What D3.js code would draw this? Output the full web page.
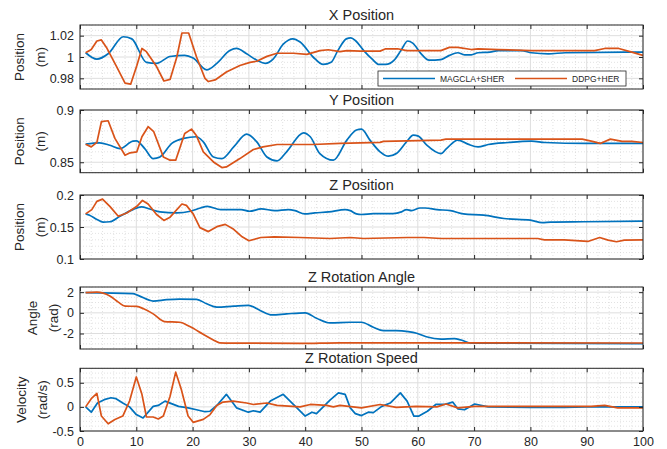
<!DOCTYPE html>
<html>
<head>
<meta charset="utf-8">
<script src="https://cdn.jsdelivr.net/npm/d3@7"></script>
<style>
  body { margin: 0; background: #fff; }
  text { font-family: "Liberation Sans", Arial, sans-serif; fill: #262626; }
</style>
</head>
<body>
<svg id="chart" width="667" height="449"></svg>
<script>
// ---- data (x = step, y = value) ----
var xTicks = [0, 10, 20, 30, 40, 50, 60, 70, 80, 90, 100];
var seriesNames = ["MAGCLA+SHER", "DDPG+HER"];

var xPosMag = [[1,1.004],[3,0.998],[5,1.003],[7.7,1.019],[9.2,1.017],[11.8,0.995],[13.6,0.994],[16,1.0005],[18.6,1.0015],[20.1,0.999],[22.5,0.988],[24.3,0.994],[26.6,1.006],[27.8,1.008],[29.6,1.003],[31.4,0.997],[32.9,0.994],[34.3,0.998],[36.1,1.012],[37.8,1.017],[39.1,1.014],[41.4,1.0],[43.2,0.993],[44.6,0.995],[45.8,1.006],[47.3,1.017],[48.1,1.018],[49,1.015],[50.4,1.006],[51.9,0.998],[53.1,0.993],[54.3,0.993],[55.8,0.997],[57,1.006],[58.2,1.015],[59.1,1.013],[60.6,1.003],[62,0.997],[64.1,0.9975],[65.6,1.0015],[67.1,1.004],[68.3,1.002],[69.5,1.002],[70.7,1.004],[72.8,1.0045],[74.3,1.006],[78.4,1.006],[80.2,1.004],[83.2,1.003],[86.2,1.004],[96.9,1.0045],[100,1.0045]];
var xPosDdpg = [[1,1.004],[2,1.007],[3,1.015],[3.8,1.016],[4.7,1.009],[6.5,0.991],[8,0.9755],[9,0.9745],[10.1,0.992],[11,1.008],[11.8,1.005],[13.6,0.991],[14.9,0.9775],[16,0.979],[17.2,1.0],[18.1,1.0225],[19.3,1.0225],[20.7,1.0],[22.2,0.98],[22.8,0.977],[24,0.9785],[26,0.986],[28.4,0.992],[30.2,0.995],[31.4,0.996],[33.2,1.0006],[35,1.0035],[37.9,1.0035],[40.3,1.0025],[42.6,1.006],[44.1,1.0068],[46.2,1.005],[47.4,1.006],[49.8,1.0055],[53.3,1.0055],[54.3,1.0077],[56.4,1.0077],[58,1.006],[64.1,1.006],[65.6,1.009],[67.1,1.009],[69.5,1.007],[70.7,1.0077],[74.3,1.007],[80.2,1.006],[91.4,1.006],[93.2,1.008],[95.7,1.008],[98,1.0046],[100,1.0015]];

var yPosMag = [[1,0.8673],[3.5,0.8685],[5.3,0.8663],[7.1,0.8631],[9.4,0.8702],[10,0.8705],[11.5,0.8631],[13,0.8535],[14.2,0.855],[16.3,0.868],[18.4,0.8728],[20.7,0.8744],[21.9,0.8695],[23.7,0.855],[25.2,0.8535],[27.3,0.8647],[29.6,0.8769],[31.4,0.8695],[33.2,0.855],[35,0.8513],[36.7,0.86],[39.7,0.8782],[40.9,0.8744],[42.6,0.8583],[45,0.852],[47.4,0.8712],[49.1,0.8808],[50,0.8817],[51.5,0.8712],[53.3,0.86],[54.8,0.8558],[56.2,0.8583],[58,0.8696],[59.2,0.876],[60.1,0.875],[61.6,0.8663],[64.1,0.8583],[65.1,0.8631],[67.1,0.8712],[68.9,0.8673],[70.7,0.8647],[72.5,0.867],[76,0.8689],[80.2,0.8702],[82.6,0.8689],[89.8,0.868],[100,0.868]];
var yPosDdpg = [[1,0.8673],[2,0.8647],[3,0.869],[3.8,0.8888],[5,0.8897],[6.2,0.8728],[8,0.8567],[8.9,0.859],[10.1,0.86],[11,0.8744],[12.1,0.884],[13.1,0.8792],[14.8,0.8551],[16,0.852],[17,0.852],[18.6,0.8776],[19.8,0.8817],[20.7,0.8753],[21.9,0.86],[23.7,0.8503],[25.2,0.8449],[26,0.8455],[28.4,0.8535],[30.8,0.8622],[32.5,0.8647],[35,0.867],[41.4,0.867],[46.2,0.868],[53.3,0.869],[53.9,0.87],[64.1,0.8712],[65,0.8721],[89.2,0.8721],[91,0.87],[92.4,0.868],[94.2,0.8721],[96.3,0.87],[98,0.87],[100,0.8689]];

var zPosMag = [[1,0.1705],[1.7,0.1685],[3,0.1618],[4.1,0.1577],[5.3,0.1582],[7.1,0.1669],[9.4,0.1772],[10.9,0.1813],[12.4,0.1782],[14.2,0.1736],[17.2,0.172],[19.6,0.1746],[21.4,0.1797],[22.6,0.1823],[25,0.1772],[28.6,0.1772],[30.1,0.1746],[32.2,0.1782],[34.6,0.1756],[37,0.1772],[38.2,0.1756],[39.9,0.1705],[41.7,0.172],[44.2,0.1736],[47.1,0.1772],[48,0.1756],[49.1,0.1705],[50,0.1695],[52.1,0.171],[55.6,0.171],[57.1,0.1736],[58,0.1772],[58.9,0.1756],[60.4,0.1797],[61.3,0.1797],[63.4,0.1772],[65.8,0.1756],[68.1,0.1705],[71.7,0.1685],[75.3,0.1633],[80,0.1608],[82.1,0.1567],[83.6,0.1577],[89.5,0.1582],[100,0.1592]];
var zPosDdpg = [[1,0.1705],[2.1,0.1772],[3,0.19],[4,0.1936],[5.3,0.1823],[6.8,0.1669],[8.3,0.172],[10.1,0.1823],[11.1,0.1915],[12.1,0.1859],[13.6,0.1695],[14.9,0.1603],[16,0.1654],[18.1,0.1859],[18.9,0.1838],[20.1,0.1705],[21.3,0.149],[22.8,0.1428],[24.3,0.1505],[25.8,0.1541],[27.3,0.1464],[28.8,0.1346],[30,0.1285],[32.1,0.1336],[34.5,0.1346],[39.1,0.1336],[44.4,0.132],[48,0.1336],[50.4,0.132],[58.2,0.1336],[61.1,0.1336],[64.1,0.132],[81.3,0.132],[82.5,0.13],[86,0.13],[90.2,0.1274],[92.3,0.1336],[93.8,0.1295],[95.3,0.127],[96.7,0.1295],[100,0.13]];

var angleMag = [[1,1.95],[9.4,1.85],[10.3,1.69],[13,1.14],[15.4,1.27],[17.7,1.33],[20.7,1.3],[22.5,0.88],[24.3,0.55],[27.3,0.65],[29.9,0.72],[32,0.23],[34.1,-0.2],[36.7,-0.1],[40,0],[42,-0.52],[44.4,-0.98],[48,-0.91],[50,-0.91],[52.1,-1.4],[53.9,-1.72],[56.2,-1.72],[58.3,-1.82],[59.8,-1.98],[61.5,-2.31],[64.1,-2.54],[66.5,-2.5],[67.7,-2.63],[69.5,-2.93],[100,-2.99]];
var angleDdpg = [[1,1.95],[3,2.0],[5.3,1.63],[6.8,1.04],[8,0.65],[10.1,0.62],[11.3,0.39],[13,-0.1],[15,-0.85],[17.7,-0.91],[19.5,-1.33],[21.8,-2.05],[23.6,-2.6],[24.8,-2.9],[27.2,-2.93],[39.1,-2.96],[46.2,-2.9],[100,-2.92]];

var speedMag = [[1,0],[2,-0.11],[3.1,0.08],[4.3,0.15],[5.5,0.19],[6.4,0.17],[7.6,0.08],[8.8,0],[10,-0.16],[11.2,-0.23],[13,0.01],[13.9,0.03],[15.1,0.12],[17.5,0.01],[19.2,-0.02],[20.7,-0.06],[22.2,-0.1],[23.1,-0.09],[24.3,0.03],[26,0.26],[27.8,-0.02],[29.9,-0.11],[30.8,-0.08],[32,-0.11],[33.8,0.12],[36.1,0.26],[37.9,0.05],[40,-0.19],[41.2,-0.11],[42,-0.14],[44.4,0.14],[45.9,0.29],[47.1,0.26],[48,-0.02],[48.9,-0.14],[50,-0.18],[51.2,-0.11],[52.1,-0.12],[53.6,0.01],[55.1,0.08],[56.9,0.29],[58.1,0.12],[59.3,-0.19],[60.2,-0.19],[61.7,-0.09],[63.2,0.05],[64.7,0.05],[66.2,0.1],[67.1,-0.04],[68.3,-0.06],[70.1,0.06],[72.5,0],[80,-0.01],[86,-0.01],[90,0],[100,0]];
var speedDdpg = [[1,0],[2,0.17],[3,0.28],[3.8,-0.19],[5,-0.35],[6.2,-0.26],[7.6,-0.19],[8.8,0.12],[10,0.62],[11,0.26],[11.8,-0.21],[13,-0.21],[13.9,-0.25],[14.8,-0.19],[16,0.22],[17,0.72],[18,0.36],[19.2,-0.19],[20.1,-0.32],[21.9,-0.26],[23.1,-0.16],[24.3,0.03],[25.4,0.1],[27.2,0.12],[29.6,0.08],[30.8,0.05],[33.2,0.08],[35,0.03],[39.1,0],[40.9,0.05],[43.8,0.03],[45,0],[46.2,0.03],[50,-0.02],[53.3,0.05],[56.2,-0.01],[59.7,0.01],[63.4,0],[65,0.06],[67.1,-0.02],[70.1,0.01],[90.8,0.01],[93.2,0.03],[95.5,-0.02],[100,-0.02]];

// tick labels per panel
var xPosTicks = [0.98, 1, 1.02];
var yPosTicks = [0.85, 0.9];
var zPosTicks = [0.1, 0.15, 0.2];
var angleTicks = [-2, 0, 2];
var speedTicks = [-0.5, 0, 0.5];

// ---- panels ----
var panels = [
  {title: "X Position", label: ["Position", "(m)"], mag: xPosMag, ddpg: xPosDdpg, domain: [0.97, 1.03], ticks: xPosTicks, minor: 0.005, top: 25, bottom: 89, smoothB: true, smoothO: false, legend: true},
  {title: "Y Position", label: ["Position", "(m)"], mag: yPosMag, ddpg: yPosDdpg, domain: [0.84, 0.9], ticks: yPosTicks, minor: 0.01, top: 110, bottom: 172.7, smoothB: true, smoothO: false},
  {title: "Z Position", label: ["Position", "(m)"], mag: zPosMag, ddpg: zPosDdpg, domain: [0.1, 0.2], ticks: zPosTicks, minor: 0.01, top: 195, bottom: 259, smoothB: true, smoothO: false},
  {title: "Z Rotation Angle", label: ["Angle", "(rad)"], mag: angleMag, ddpg: angleDdpg, domain: [-3.5, 2.5], ticks: angleTicks, minor: 0.5, top: 287, bottom: 349, smoothB: true, smoothO: true},
  {title: "Z Rotation Speed", label: ["Velocity", "(rad/s)"], mag: speedMag, ddpg: speedDdpg, domain: [-0.5, 0.8], ticks: speedTicks, minor: 0.1, top: 368.3, bottom: 431, smoothB: false, smoothO: false, xlabels: true}
];

var blue = "#0072BD", orange = "#D95319", ink = "#262626";
var left = 80, right = 643;
var svg = d3.select("#chart");
var x = d3.scaleLinear().domain([0, 100]).range([left, right]);
var fmt = function(d) { return String(+d.toFixed(3)); };

panels.forEach(function(p, i) {
  var y = d3.scaleLinear().domain(p.domain).range([p.bottom, p.top]);
  var g = svg.append("g");

  // minor grid
  var xMinor = d3.range(0, 100.001, 2).filter(function(v) { return v % 10 !== 0; });
  var yMinor = [];
  for (var v = p.domain[0]; v <= p.domain[1] + 1e-9; v += p.minor) {
    var r = +v.toFixed(4);
    if (p.ticks.indexOf(r) < 0) yMinor.push(r);
  }
  g.selectAll(".mx").data(xMinor).enter().append("line")
    .attr("x1", x).attr("x2", x).attr("y1", p.top).attr("y2", p.bottom)
    .attr("stroke", "#cfcfcf").attr("stroke-width", 0.6).attr("stroke-dasharray", "1,2");
  g.selectAll(".my").data(yMinor).enter().append("line")
    .attr("x1", left).attr("x2", right).attr("y1", y).attr("y2", y)
    .attr("stroke", "#cfcfcf").attr("stroke-width", 0.6).attr("stroke-dasharray", "1,2");

  // major grid
  g.selectAll(".gx").data(xTicks).enter().append("line")
    .attr("x1", x).attr("x2", x).attr("y1", p.top).attr("y2", p.bottom)
    .attr("stroke", "#dedede").attr("stroke-width", 1);
  g.selectAll(".gy").data(p.ticks).enter().append("line")
    .attr("x1", left).attr("x2", right).attr("y1", y).attr("y2", y)
    .attr("stroke", "#dedede").attr("stroke-width", 1);

  // lines
  var clipId = "clip" + i;
  svg.append("clipPath").attr("id", clipId).append("rect")
    .attr("x", left).attr("y", p.top).attr("width", right - left).attr("height", p.bottom - p.top);
  var mkLine = function(smooth) {
    return d3.line().x(function(d) { return x(d[0]); }).y(function(d) { return y(d[1]); })
      .curve(smooth ? d3.curveMonotoneX : d3.curveLinear);
  };
  var lg = g.append("g").attr("clip-path", "url(#" + clipId + ")");
  lg.append("path").datum(p.mag).attr("d", mkLine(p.smoothB))
    .attr("fill", "none").attr("stroke", blue).attr("stroke-width", 1.7).attr("stroke-linejoin", "round");
  lg.append("path").datum(p.ddpg).attr("d", mkLine(p.smoothO))
    .attr("fill", "none").attr("stroke", orange).attr("stroke-width", 1.7).attr("stroke-linejoin", "round");

  // axes: ticks inside on all four sides
  var ax = g.append("g").attr("transform", "translate(0," + p.bottom + ")")
    .call(d3.axisBottom(x).tickValues(xTicks).tickSize(-4).tickPadding(6)
      .tickFormat(p.xlabels ? d3.format("d") : ""));
  var axTop = g.append("g").attr("transform", "translate(0," + p.top + ")")
    .call(d3.axisTop(x).tickValues(xTicks).tickSize(-4).tickFormat(""));
  var ay = g.append("g").attr("transform", "translate(" + left + ",0)")
    .call(d3.axisLeft(y).tickValues(p.ticks).tickSize(-4).tickPadding(6).tickFormat(fmt));
  var ayR = g.append("g").attr("transform", "translate(" + right + ",0)")
    .call(d3.axisRight(y).tickValues(p.ticks).tickSize(-4).tickFormat(""));
  [ax, axTop, ay, ayR].forEach(function(a) {
    a.select(".domain").remove();
    a.selectAll("line").attr("stroke", ink);
    a.selectAll("text").attr("font-size", 12.5).attr("fill", ink)
      .style("font-family", '"Liberation Sans", Arial, sans-serif');
  });

  // box
  g.append("rect").attr("x", left).attr("y", p.top)
    .attr("width", right - left).attr("height", p.bottom - p.top)
    .attr("fill", "none").attr("stroke", ink).attr("stroke-width", 1);

  // title
  g.append("text").attr("x", (left + right) / 2).attr("y", p.top - 5)
    .attr("text-anchor", "middle").attr("font-size", 14.5).text(p.title);

  // y label, two lines
  var bb = ay.node().getBBox();
  var cy = (p.top + p.bottom) / 2;
  var bx = left + bb.x - 5;
  p.label.forEach(function(t, k) {
    var lx = bx - (p.label.length - 1 - k) * 21;
    g.append("text").attr("transform", "translate(" + lx + "," + cy + ") rotate(-90)")
      .attr("text-anchor", "middle").attr("font-size", 13.5).text(t);
  });

  // legend
  if (p.legend) {
    var L = g.append("g").attr("transform", "translate(378,71)");
    L.append("rect").attr("width", 248).attr("height", 15)
      .attr("fill", "#fff").attr("stroke", ink).attr("stroke-width", 0.8);
    var items = [{name: seriesNames[0], c: blue, x0: 5}, {name: seriesNames[1], c: orange, x0: 137}];
    items.forEach(function(it) {
      L.append("line").attr("x1", it.x0).attr("x2", it.x0 + 52).attr("y1", 7.5).attr("y2", 7.5)
        .attr("stroke", it.c).attr("stroke-width", 1.7);
      L.append("text").attr("x", it.x0 + 57).attr("y", 10.6).attr("font-size", 8.5).text(it.name);
    });
  }
});
</script>
</body>
</html>
